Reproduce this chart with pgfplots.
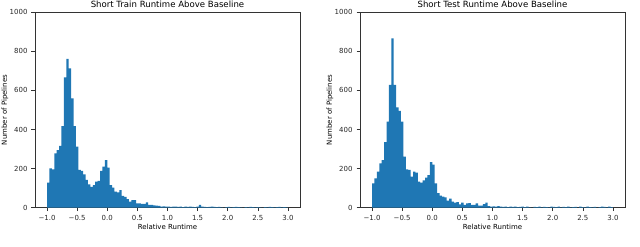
\documentclass[border=0pt]{standalone}
\usepackage{fontspec}
\setmainfont{DejaVu Sans}
\usepackage{pgfplots}
\pgfplotsset{compat=1.18}
\usepackage{pgfplotstable}
\definecolor{mplblue}{HTML}{1F77B4}

\pgfplotstableread{
x y
-1.00 128
-0.96 201
-0.92 196
-0.88 278
-0.84 295
-0.80 316
-0.76 418
-0.72 667
-0.68 761
-0.64 713
-0.60 560
-0.56 418
-0.52 312
-0.48 193
-0.44 188
-0.40 171
-0.36 142
-0.32 120
-0.28 107
-0.24 116
-0.20 133
-0.16 137
-0.12 189
-0.08 210
-0.04 244
0.00 205
0.04 116
0.08 103
0.12 82
0.16 78
0.20 90
0.24 60
0.28 56
0.32 44
0.36 31
0.40 39
0.44 39
0.48 22
0.52 22
0.56 20
0.60 20
0.64 27
0.68 14
0.72 14
0.76 12
0.80 10
0.84 9
0.88 6
0.92 7
0.96 5
1.00 6
1.04 4
1.08 5
1.12 6
1.16 4
1.20 5
1.24 3
1.28 5
1.32 4
1.36 5
1.40 4
1.44 3
1.48 6
1.52 14
1.56 5
1.60 4
1.64 3
1.68 4
1.72 5
1.76 4
1.80 3
1.84 4
1.88 2
1.92 0
1.96 3
2.00 4
2.04 2
2.08 3
2.12 4
2.16 3
2.20 2
2.24 0
2.28 3
2.32 2
2.36 4
2.40 3
2.44 2
2.48 3
2.52 2
2.56 0
2.60 3
2.64 2
2.68 4
2.72 3
2.76 2
2.80 3
2.84 4
2.88 2
2.92 3
2.96 2
3.00 0
}\trainTable

\pgfplotstableread{
x y
-1.00 125
-0.96 150
-0.92 184
-0.88 227
-0.84 244
-0.80 335
-0.76 440
-0.72 628
-0.68 867
-0.64 628
-0.60 514
-0.56 495
-0.52 440
-0.48 261
-0.44 196
-0.40 194
-0.36 159
-0.32 184
-0.28 179
-0.24 133
-0.20 128
-0.16 140
-0.12 154
-0.08 167
-0.04 233
0.00 220
0.04 125
0.08 74
0.12 62
0.16 57
0.20 53
0.24 36
0.28 46
0.32 31
0.36 26
0.40 29
0.44 17
0.48 26
0.52 14
0.56 22
0.60 24
0.64 14
0.68 14
0.72 22
0.76 10
0.80 10
0.84 18
0.88 26
0.92 8
0.96 6
1.00 7
1.04 5
1.08 8
1.12 6
1.16 4
1.20 5
1.24 3
1.28 6
1.32 4
1.36 5
1.40 3
1.44 4
1.48 6
1.52 3
1.56 5
1.60 2
1.64 0
1.68 4
1.72 3
1.76 5
1.80 2
1.84 4
1.88 3
1.92 2
1.96 6
2.00 4
2.04 3
2.08 5
2.12 2
2.16 4
2.20 3
2.24 6
2.28 2
2.32 3
2.36 4
2.40 0
2.44 5
2.48 3
2.52 2
2.56 6
2.60 3
2.64 2
2.68 4
2.72 0
2.76 3
2.80 5
2.84 4
2.88 2
2.92 5
2.96 3
3.00 0
}\testTable

\pgfplotsset{
  histax/.style={
    scale only axis,
    width=265bp, height=195.4bp,
    anchor=south west,
    xmin=-1.2, xmax=3.2, ymin=0, ymax=1000,
    axis line style={black!80, line width=0.7bp},
    tick pos=left,
    tick align=outside,
    major tick length=3.5bp,
    every tick/.style={black!80, line width=0.6bp},
    xtick={-1,-0.5,0,0.5,1,1.5,2,2.5,3},
    xticklabels={−1.0,−0.5,0.0,0.5,1.0,1.5,2.0,2.5,3.0},
    ytick={0,200,400,600,800,1000},
    /pgf/number format/assume math mode=true,
    /pgf/number format/1000 sep={},
    tick label style={font=\fontsize{7}{8}\selectfont, text=black!85},
    xticklabel style={yshift=-0.5bp},
    yticklabel style={xshift=-0.5bp},
    every axis title shift=0pt,
    title style={font=\fontsize{8.6}{10}\selectfont, at={(axis description cs:0.5,1.0256)}, anchor=base, inner sep=0pt, yshift=0pt},
    xlabel style={font=\fontsize{7}{8}\selectfont, at={(axis description cs:0.5,-0.096)}, anchor=center, inner sep=0pt},
    ylabel style={font=\fontsize{7}{8}\selectfont, at={(axis description cs:-0.113,0.5)}, anchor=center, inner sep=0pt},
    xlabel={Relative Runtime},
    ylabel={Number of Pipelines},
  }
}

\begin{document}
\begin{tikzpicture}
\useasboundingbox (0,0) rectangle (640bp,247bp);
\begin{axis}[histax, at={(35bp,39.3bp)}, title={Short Train Runtime Above Baseline}]
\addplot[ybar interval, fill=mplblue, draw=none] table[x=x, y=y] {\trainTable};
\end{axis}
\begin{axis}[histax, at={(360bp,39.3bp)}, title={Short Test Runtime Above Baseline}]
\addplot[ybar interval, fill=mplblue, draw=none] table[x=x, y=y] {\testTable};
\end{axis}
\end{tikzpicture}
\end{document}
